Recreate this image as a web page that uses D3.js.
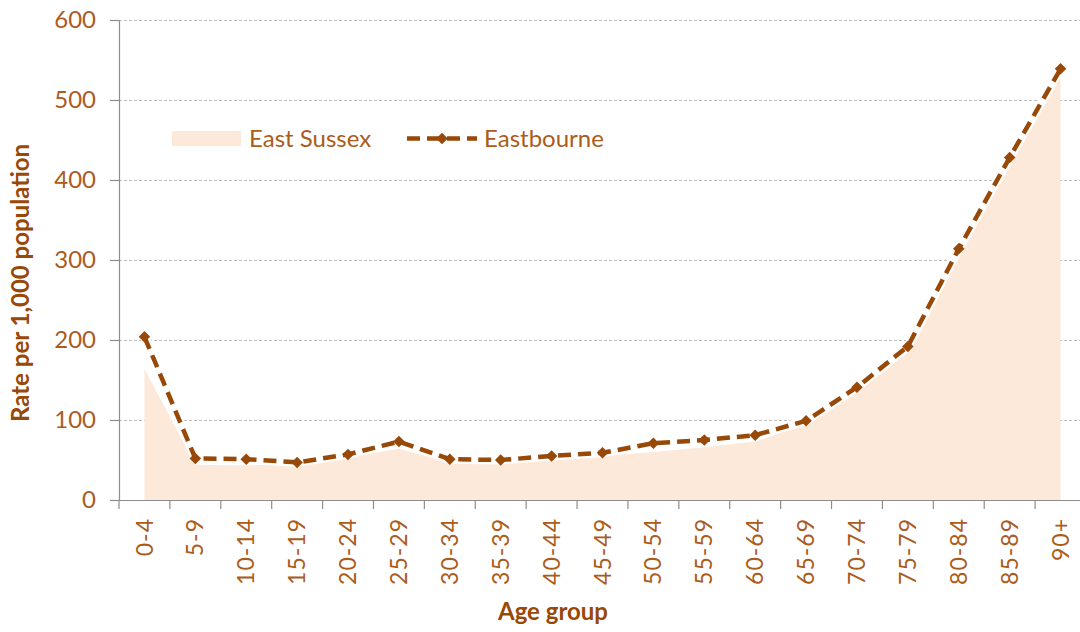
<!DOCTYPE html>
<html>
<head>
<meta charset="utf-8">
<script src="https://cdn.jsdelivr.net/npm/d3@7"></script>
<style>
  body { margin: 0; background: #fff; }
  svg { display: block; font-family: Lato, "Open Sans", sans-serif; }
</style>
</head>
<body>
<svg id="chart"></svg>
<script>
// age bands along the x axis
const ageGroups = ['0-4', '5-9', '10-14', '15-19', '20-24', '25-29', '30-34', '35-39', '40-44',
  '45-49', '50-54', '55-59', '60-64', '65-69', '70-74', '75-79', '80-84', '85-89', '90+'];

// rate per 1,000 population
const eastSussex = [164, 44, 43, 46, 53, 64, 47, 47, 50, 55, 60, 66, 73, 95, 138, 188, 305, 422, 532];
const eastbourne = [204, 52, 51, 47, 57, 73, 51, 50, 55, 59, 71, 75, 81, 99, 141, 192, 314, 428, 539];

const yTicks = [0, 100, 200, 300, 400, 500, 600];

const labelColor = '#ab5c1c';
const lineColor = '#984807';
const areaColor = '#fde9d9';

const config = {
  width: 1080,
  height: 632,
  margin: { top: 20, right: -6, bottom: 132, left: 119 }
};

const innerW = config.width - config.margin.left - config.margin.right;
const innerH = config.height - config.margin.top - config.margin.bottom;

const svg = d3.select('#chart')
    .attr('width', config.width)
    .attr('height', config.height);

const chart = svg.append('g')
    .attr('transform', `translate(${config.margin.left},${config.margin.top})`);

// scales
const xScale = d3.scaleBand()
    .domain(ageGroups)
    .range([0, innerW]);

const yScale = d3.scaleLinear()
    .domain([0, 600])
    .range([innerH, 0]);

const xMid = d => xScale(d) + xScale.bandwidth() / 2;

// gridlines
chart.append('g')
    .selectAll('line')
    .data(yTicks.filter(d => d > 0))
    .join('line')
    .attr('x1', 0)
    .attr('x2', innerW)
    .attr('y1', d => yScale(d) + 0.5)
    .attr('y2', d => yScale(d) + 0.5)
    .attr('stroke', '#bdbdbd')
    .attr('stroke-dasharray', '3,2');

// East Sussex area
const area = d3.area()
    .x((d, i) => xMid(ageGroups[i]))
    .y0(yScale(0))
    .y1(d => yScale(d));

chart.append('path')
    .datum(eastSussex)
    .attr('d', area)
    .attr('fill', areaColor);

// Eastbourne line with white halo
const line = d3.line()
    .x((d, i) => xMid(ageGroups[i]))
    .y(d => yScale(d));

chart.append('path')
    .datum(eastbourne)
    .attr('d', line)
    .attr('fill', 'none')
    .attr('stroke', '#fff')
    .attr('stroke-width', 9)
    .attr('stroke-linejoin', 'round');

chart.append('path')
    .datum(eastbourne)
    .attr('d', line)
    .attr('fill', 'none')
    .attr('stroke', lineColor)
    .attr('stroke-width', 4.5)
    .attr('stroke-dasharray', '13,7');

const diamond = d3.symbol().type(d3.symbolDiamond2).size(85);

chart.selectAll('.marker')
    .data(eastbourne)
    .join('path')
    .attr('class', 'marker')
    .attr('d', diamond)
    .attr('transform', (d, i) => `translate(${xMid(ageGroups[i])},${yScale(d)})`)
    .attr('fill', lineColor);

// axes
const xAxis = d3.axisBottom(xScale).tickSize(9).tickSizeOuter(0);
const yAxis = d3.axisLeft(yScale).tickValues(yTicks).tickSize(9).tickSizeOuter(0).tickPadding(14);

const xAxisG = chart.append('g')
    .attr('transform', `translate(0,${innerH})`)
    .call(xAxis);

// ticks sit on band edges, not centres
xAxisG.selectAll('.tick line')
    .attr('transform', `translate(${-xScale.bandwidth() / 2},0)`);
xAxisG.append('line')
    .attr('x1', innerW).attr('x2', innerW)
    .attr('y1', 0).attr('y2', 9);

const yAxisG = chart.append('g').call(yAxis);

[xAxisG, yAxisG].forEach(g => {
  g.selectAll('.domain, line').attr('stroke', '#8c8c8c').attr('stroke-width', 1.2);
  g.selectAll('text')
      .attr('fill', labelColor)
      .style('font-size', '24px')
      .style('font-family', 'Lato, sans-serif');
});

xAxisG.selectAll('.tick text')
    .attr('transform', 'rotate(-90)')
    .attr('x', -18)
    .attr('y', 0)
    .attr('dy', '0.35em')
    .attr('text-anchor', 'end')
    .style('font-size', '23px')
    .style('letter-spacing', '1px');

// axis titles
svg.append('text')
    .attr('x', 553)
    .attr('y', 620)
    .attr('text-anchor', 'middle')
    .attr('fill', lineColor)
    .style('font-size', '24px')
    .style('font-weight', 'bold')
    .text('Age group');

svg.append('text')
    .attr('transform', 'translate(29,283) rotate(-90)')
    .attr('text-anchor', 'middle')
    .attr('fill', lineColor)
    .style('font-size', '24px')
    .style('font-weight', 'bold')
    .text('Rate per 1,000 population');

// legend
const legend = svg.append('g');

legend.append('rect')
    .attr('x', 172).attr('y', 131)
    .attr('width', 69).attr('height', 15)
    .attr('fill', areaColor);

legend.append('text')
    .attr('x', 249).attr('y', 147)
    .attr('fill', labelColor)
    .style('font-size', '24px')
    .text('East Sussex');

legend.append('line')
    .attr('x1', 407).attr('x2', 477)
    .attr('y1', 138.5).attr('y2', 138.5)
    .attr('stroke', lineColor)
    .attr('stroke-width', 4.5)
    .attr('stroke-dasharray', '13,7');

legend.append('path')
    .attr('d', diamond)
    .attr('transform', 'translate(442,138.5)')
    .attr('fill', lineColor);

legend.append('text')
    .attr('x', 484).attr('y', 147)
    .attr('fill', labelColor)
    .style('font-size', '24px')
    .text('Eastbourne');
</script>
</body>
</html>
